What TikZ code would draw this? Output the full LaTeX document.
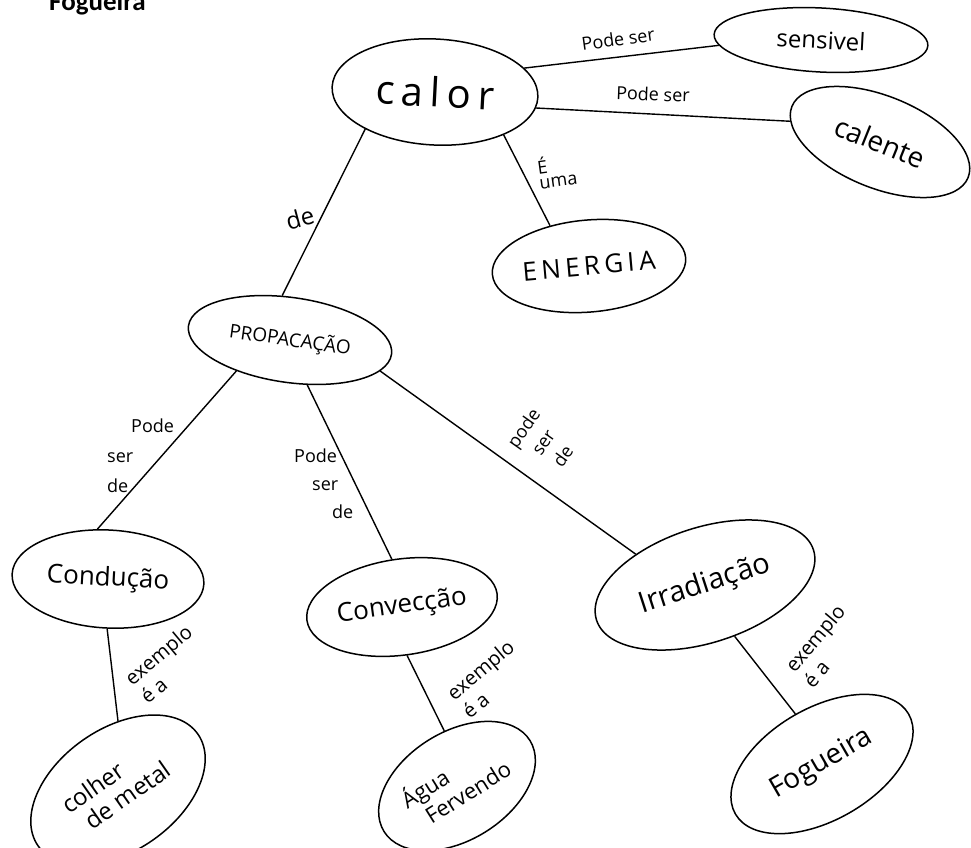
\documentclass[tikz,border=0pt]{standalone}
\usepackage{fontspec}
\setmainfont{Open Sans}
\newfontfamily\titlefont{Carlito}
\usetikzlibrary{shapes.geometric}
\begin{document}
\begin{tikzpicture}[x=1pt,y=-1pt,
  concept/.style={ellipse, draw, line width=1.5pt, inner sep=0pt},
  link/.style={line width=1.4pt},
  lbl/.style={inner sep=1pt, font=\fontsize{18}{20}\selectfont, align=center},
  lblL/.style={inner sep=1pt, align=left}]
  \useasboundingbox (0,0) rectangle (971,847);
  \fill[white] (0,0) rectangle (971,847);

  % heading, cut by the top edge
  \node[anchor=base west, inner sep=0pt, font=\titlefont\bfseries\fontsize{27}{27}\selectfont] (title) at (49,10) {Fogueira};

  % concepts
  \node[concept, minimum width=206, minimum height=106, rotate=-3] (calor) at (435,92)
    {\fontsize{40}{40}\selectfont c\,a\,l\,o\,r};
  \node[concept, minimum width=214, minimum height=64, rotate=-3] (sensivel) at (821,40)
    {\fontsize{24}{24}\selectfont sensivel};
  \node[concept, minimum width=190, minimum height=92, rotate=-22] (calente) at (880,142)
    {\fontsize{28}{28}\selectfont calente};
  \node[concept, minimum width=194, minimum height=92, rotate=5] (energia) at (589,266)
    {\fontsize{26}{26}\selectfont E\,N\,E\,R\,G\,I\,A};
  \node[concept, minimum width=205, minimum height=85, rotate=-8] (propag) at (290,340)
    {\fontsize{19}{19}\selectfont PROPACAÇÃO};
  \node[concept, minimum width=192, minimum height=98, rotate=-3] (conducao) at (108,579)
    {\fontsize{26}{26}\selectfont Condução};
  \node[concept, minimum width=192, minimum height=96, rotate=8] (conveccao) at (402,607)
    {\fontsize{26}{26}\selectfont Convecção};
  \node[concept, minimum width=228, minimum height=115, rotate=18] (irradiacao) at (705,585)
    {\fontsize{29}{29}\selectfont Irradiação};
  \node[concept, minimum width=195, minimum height=122, rotate=35] (colher) at (118,790)
    {\fontsize{24}{28}\selectfont\begin{tabular}{@{}l@{}}colher\\[-2pt]\hspace*{10pt}de metal\end{tabular}};
  \node[concept, minimum width=172, minimum height=108, rotate=32] (agua) at (457,786)
    {\fontsize{22}{26}\selectfont\begin{tabular}{@{}l@{}}Água\\\hspace*{12pt}Fervendo\end{tabular}};
  \node[concept, minimum width=200, minimum height=112, rotate=30] (fogueira) at (822,764)
    {\fontsize{28}{28}\selectfont Fogueira};

  % connectors
  \draw[link] (calor.18) -- (sensivel.186);
  \draw[link] (calor.-6) -- (calente.189);
  \draw[link] (calor.-29) -- (energia.129);
  \draw[link] (calor.211) -- (propag.108);
  \draw[link] (propag.-142) -- (conducao.105);
  \draw[link] (propag.-61) -- (conveccao.94);
  \draw[link] (propag.-11) -- (irradiacao.138);
  \draw[link] (conducao.-88) -- (colher.55);
  \draw[link] (conveccao.-92) -- (agua.71);
  \draw[link] (irradiacao.-78) -- (fogueira.88);

  % link phrases
  \node[lbl, rotate=8] (l1) at (618,39) {Pode ser};
  \node[lbl, rotate=-2] (l2) at (653,94) {Pode ser};
  \node[lblL, font=\fontsize{18}{17}\selectfont, rotate=8] (l3) at (557,171) {É\\[-2pt]uma};
  \node[lbl, font=\fontsize{24}{24}\selectfont, rotate=15] (l4) at (300,218) {de};
  \node[lblL, font=\fontsize{18}{30}\selectfont, anchor=north west] (l5) at (106,418)
    {\hspace*{24pt}Pode\\ser\\de};
  \node[lblL, font=\fontsize{18}{28}\selectfont, anchor=north west] (l6) at (293,448)
    {Pode\\\hspace*{18pt}ser\\\hspace*{38pt}de};
  \node[lbl, font=\fontsize{18}{24}\selectfont, rotate=55] (l7) at (543,442) {pode\\ser\\de};
  \node[lblL, font=\fontsize{20}{24}\selectfont, rotate=40] (l8) at (166,664) {exemplo\\é a};
  \node[lblL, font=\fontsize{20}{24}\selectfont, rotate=40] (l9) at (488,679) {exemplo\\é a};
  \node[lblL, font=\fontsize{20}{24}\selectfont, rotate=50] (l10) at (824,646) {exemplo\\é a};
\end{tikzpicture}
\end{document}
